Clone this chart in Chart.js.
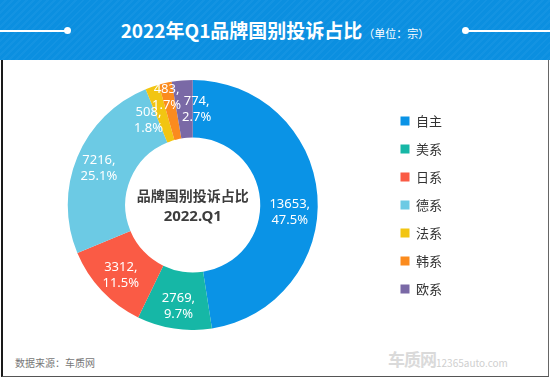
<!DOCTYPE html>
<html>
<head>
<meta charset="utf-8">
<script src="https://cdn.jsdelivr.net/npm/chart.js@4/dist/chart.umd.min.js"></script>
<style>
  html, body { margin:0; padding:0; width:550px; height:380px; background:#fff; overflow:hidden;
    font-family:"Noto Sans CJK SC","Noto Sans",sans-serif; }
  #header { position:absolute; left:0; top:0; width:550px; height:60px;
    background: repeating-linear-gradient(135deg, #0b8fe0 0px, #0b8fe0 3px, #1393e2 3px, #1393e2 5px); }
  #title { position:absolute; left:0; top:0; width:550px; height:60px; line-height:60px; text-align:center;
    color:#fff; white-space:nowrap; }
  #title .main { font-size:19px; font-weight:bold; }
  #title .unit { font-size:11px; margin-left:1px; }
  .hline { position:absolute; top:30px; height:2px; background:#fff; }
  .dot { position:absolute; top:27px; width:7px; height:7px; border-radius:50%; background:#fff; }
  #panel { position:absolute; left:1px; top:60px; width:545px; height:316px;
    border-left:2px solid #1a1a1a; border-right:1px solid #666; border-bottom:1px solid #555; background:#fff; }
  #chart { position:absolute; left:0; top:80px; }
  #source { position:absolute; left:15px; top:355px; font-size:10px; color:#777; }
  #wm1 { position:absolute; left:388px; top:346px; font-size:17px; font-weight:bold; color:#dadada; letter-spacing:-1px; }
  #wm2 { position:absolute; left:436px; top:355px; font-size:10px; color:#cfcfcf; }
</style>
</head>
<body>
<div id="header"></div>
<div class="hline" style="left:0;width:66px;"></div>
<div class="dot" style="left:64px;"></div>
<div class="dot" style="left:462px;"></div>
<div class="hline" style="left:466px;width:84px;"></div>
<div id="title"><span class="main">2022年Q1品牌国别投诉占比</span><span class="unit">（单位：宗）</span></div>
<div id="panel"></div>
<canvas id="chart" width="452" height="250"></canvas>
<div id="source">数据来源：车质网</div>
<div id="wm1">车质网</div>
<div id="wm2">12365auto.com</div>
<script>
const categories = ['自主', '美系', '日系', '德系', '法系', '韩系', '欧系'];
const values = [13653, 2769, 3312, 7216, 508, 483, 774];
const percentLabels = ['47.5%', '9.7%', '11.5%', '25.1%', '1.8%', '1.7%', '2.7%'];
const colors = ['#0a93e6', '#16b7a6', '#fa5b45', '#6ccae4', '#f2c512', '#fb8b1e', '#7a69a6'];
const centerLines = ['品牌国别投诉占比', '2022.Q1'];

// label nudges (styling only), in px
const labelNudge = [[1, 15], [0, 6], [-2, 4], [-5, 0], [-13, 6], [-5, -14], [12, 0]];

const sliceLabels = {
  id: 'sliceLabels',
  afterDatasetsDraw(chart) {
    const ctx = chart.ctx;
    const meta = chart.getDatasetMeta(0);
    ctx.save();
    ctx.fillStyle = '#fff';
    ctx.font = '13px "Noto Sans", "Noto Sans CJK SC", sans-serif';
    ctx.textAlign = 'center';
    ctx.textBaseline = 'middle';
    meta.data.forEach((arc, i) => {
      const p = arc.getCenterPoint();
      const x = p.x + labelNudge[i][0];
      const y = p.y + labelNudge[i][1];
      ctx.fillText(values[i] + ',', x, y - 8);
      ctx.fillText(percentLabels[i], x, y + 8);
    });
    // center text
    const arc0 = meta.data[0];
    ctx.fillStyle = '#3d3d3d';
    ctx.font = 'bold 14px "Noto Sans CJK SC", sans-serif';
    ctx.fillText(centerLines[0], arc0.x, arc0.y - 9);
    ctx.font = 'bold 15px "Noto Sans", "Noto Sans CJK SC", sans-serif';
    ctx.fillText(centerLines[1], arc0.x, arc0.y + 12);
    ctx.restore();
  }
};

new Chart(document.getElementById('chart'), {
  type: 'doughnut',
  data: {
    labels: categories,
    datasets: [{
      data: values,
      backgroundColor: colors,
      borderWidth: 0,
      hoverOffset: 0
    }]
  },
  options: {
    responsive: false,
    animation: false,
    cutout: '54%',
    layout: { padding: 0 },
    events: [],
    plugins: {
      tooltip: { enabled: false },
      legend: {
        position: 'right',
        labels: {
          boxWidth: 9,
          boxHeight: 9,
          padding: 15,
          color: '#333',
          font: { size: 13, family: '"Noto Sans CJK SC", sans-serif' }
        }
      }
    }
  },
  plugins: [sliceLabels]
});
</script>
</body>
</html>
